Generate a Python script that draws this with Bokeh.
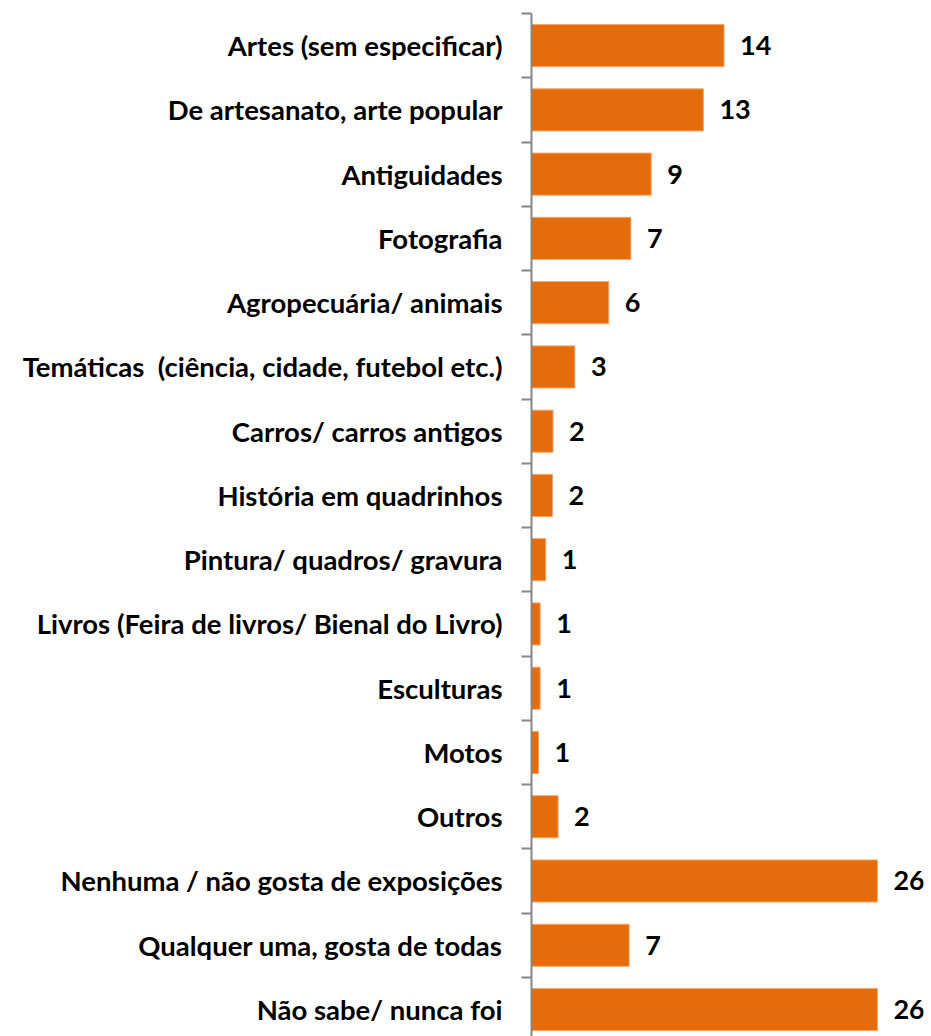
from bokeh.plotting import figure
from bokeh.models import Range1d, FixedTicker, ColumnDataSource, LabelSet
from bokeh.core.properties import value
from bokeh.embed import file_html
from bokeh.resources import INLINE

categories = [
    "Artes (sem especificar)",
    "De artesanato, arte popular",
    "Antiguidades",
    "Fotografia",
    "Agropecuária/ animais",
    "Temáticas \u00a0(ciência, cidade, futebol etc.)",
    "Carros/ carros antigos",
    "História em quadrinhos",
    "Pintura/ quadros/ gravura",
    "Livros (Feira de livros/ Bienal do Livro)",
    "Esculturas",
    "Motos",
    "Outros",
    "Nenhuma / não gosta de exposições",
    "Qualquer uma, gosta de todas",
    "Não sabe/ nunca foi",
]
values = [14.47, 12.92, 9.0, 7.47, 5.81, 3.26, 1.62, 1.58, 1.07, 0.65, 0.65, 0.53, 2.0, 26.0, 7.34, 26.0]
value_labels = ["14", "13", "9", "7", "6", "3", "2", "2", "1", "1", "1", "1", "2", "26", "7", "26"]

pos = list(range(len(categories)))
src = ColumnDataSource(dict(y=pos, v=values, lab=value_labels))

FONT = "Lato"

p = figure(width=931, height=1036, output_backend="svg", toolbar_location=None,
           x_range=Range1d(0, 29.46), y_range=Range1d(15.42, -0.5),
           min_border_left=531, min_border_top=13, min_border_bottom=0, min_border_right=8)
p.outline_line_color = None
p.background_fill_color = None
p.border_fill_color = "white"
p.grid.visible = False
p.xaxis.visible = False

p.hbar(y="y", right="v", left=0, height=0.655, source=src,
       fill_color="#E46C0A", line_color="#F4A66A", line_width=1)

labels = LabelSet(x="v", y="y", text="lab", source=src, x_offset=16, y_offset=0,
                  text_font=value(FONT), text_font_style="bold", text_font_size="27px",
                  text_color="black", text_baseline="middle", text_align="left")
p.add_layout(labels)

yax = p.yaxis[0]
yax.ticker = FixedTicker(ticks=pos, minor_ticks=[i + 0.5 for i in range(-1, 16)])
yax.major_label_overrides = {i: c for i, c in enumerate(categories)}
yax.major_tick_out = 0
yax.major_tick_in = 0
yax.minor_tick_out = 10
yax.minor_tick_in = 0
yax.minor_tick_line_color = "#868686"
yax.minor_tick_line_width = 2
yax.axis_line_color = "#868686"
yax.axis_line_width = 2
yax.major_label_standoff = 19
yax.major_label_text_font = FONT
yax.major_label_text_font_style = "bold"
yax.major_label_text_font_size = "27.5px"
yax.major_label_text_color = "black"

open("out.html", "w").write(file_html(p, INLINE))
